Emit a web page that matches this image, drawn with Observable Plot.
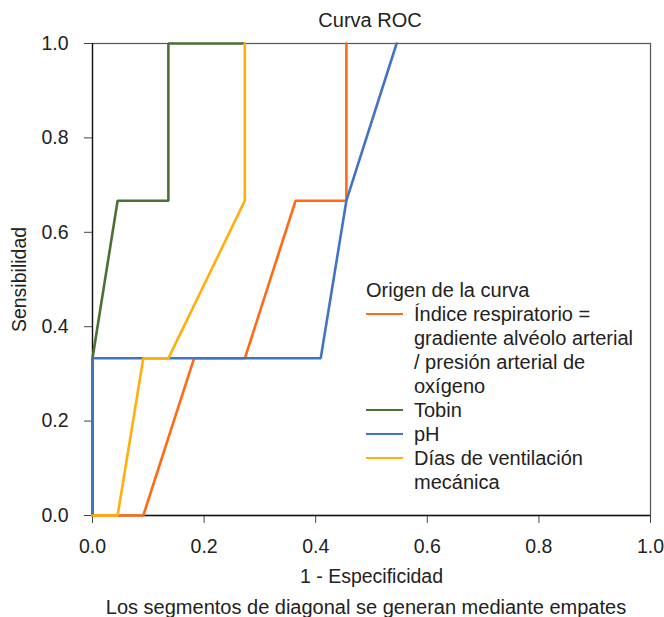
<!DOCTYPE html>
<html><head><meta charset="utf-8">
<script src="https://cdn.jsdelivr.net/npm/d3@7"></script>
<script src="https://cdn.jsdelivr.net/npm/@observablehq/plot@0.6"></script>
<style>
body{margin:0;background:#fff;font-family:"Liberation Sans",Arial,sans-serif;color:#222}
#wrap{position:relative;width:664px;height:617px}
#title{position:absolute;left:0;width:740px;top:8px;text-align:center;font-size:20px;line-height:24px}
#caption{position:absolute;left:0;width:732px;top:595px;text-align:center;font-size:20px;line-height:24px}
#legend{position:absolute;left:366px;top:278px;font-size:20px;line-height:24px}
#legend .row{display:flex;align-items:flex-start}
#legend .sw{width:37px;height:2.6px;margin-top:10.7px;margin-right:11px;flex:none}
#legend .lab{width:260px}
</style></head>
<body><div id="wrap"><div id="title"></div><div id="caption"></div><div id="legend"></div></div>
<script>
const titleText = "Curva ROC";
const captionText = "Los segmentos de diagonal se generan mediante empates";
const legendTitle = "Origen de la curva";
const series = ["Índice respiratorio = gradiente alvéolo arterial / presión arterial de oxígeno", "Tobin", "pH", "Días de ventilación mecánica"];
const legendLines = [["Índice respiratorio =", "gradiente alvéolo arterial", "/ presión arterial de", "oxígeno"], ["Tobin"], ["pH"], ["Días de ventilación", "mecánica"]];
const colors = ["#FF6A13", "#4B7133", "#4473C5", "#FFB00F"];
// 1 - specificity (x) and sensitivity (y) for each curve
const indiceX = [0, 0.091, 0.182, 0.273, 0.364, 0.455, 0.455];
const indiceY = [0, 0, 0.333, 0.333, 0.667, 0.667, 1];
const tobinX = [0, 0, 0.045, 0.136, 0.136, 0.273];
const tobinY = [0, 0.333, 0.667, 0.667, 1, 1];
const phX = [0, 0, 0.409, 0.455, 0.545];
const phY = [0, 0.333, 0.333, 0.667, 1];
const diasX = [0, 0.045, 0.091, 0.136, 0.273, 0.273];
const diasY = [0, 0, 0.333, 0.333, 0.667, 1];
const ticks = [0, 0.2, 0.4, 0.6, 0.8, 1.0];

const drawOrder = [
  [series[0], indiceX, indiceY],
  [series[1], tobinX, tobinY],
  [series[2], phX, phY],
  [series[3], diasX, diasY]
];
const data = drawOrder.flatMap(([s, xs, ys]) => xs.map((x, i) => ({series: s, x, y: ys[i]})));

const chart = Plot.plot({
  width: 664, height: 617,
  marginLeft: 92, marginRight: 14, marginTop: 43, marginBottom: 102,
  style: {fontSize: "19.5px", fontFamily: "'Liberation Sans', Arial, sans-serif", color: "#222", background: "#fff"},
  x: {domain: [0, 1]},
  y: {domain: [0, 1]},
  color: {domain: series, range: colors},
  marks: [
    Plot.frame({stroke: "#555", strokeWidth: 1.2}),
    Plot.axisX({ticks, tickFormat: d3.format(".1f"), tickSize: 8, tickPadding: 16, label: "1 - Especificidad", labelAnchor: "center", labelArrow: "none", labelOffset: 67, stroke: "#444", fontSize: 19.5}),
    Plot.axisY({ticks, tickFormat: d3.format(".1f"), tickSize: 8, tickPadding: 16, label: "Sensibilidad", labelAnchor: "center", labelArrow: "none", labelOffset: 80, stroke: "#444", fontSize: 19.5}),
    Plot.ruleX([0], {stroke: "#111", strokeWidth: 1.3}),
    Plot.ruleY([0], {stroke: "#111", strokeWidth: 1.3}),
    Plot.line(data, {x: "x", y: "y", z: "series", stroke: "series", strokeWidth: 2.6, strokeLinejoin: "miter", curve: "linear"})
  ]
});
document.getElementById("wrap").prepend(chart);
document.getElementById("title").textContent = titleText;
document.getElementById("caption").textContent = captionText;
const leg = document.getElementById("legend");
const t = document.createElement("div"); t.textContent = legendTitle; leg.appendChild(t);
series.forEach((s, i) => {
  const row = document.createElement("div"); row.className = "row";
  const sw = document.createElement("div"); sw.className = "sw"; sw.style.background = colors[i];
  const lab = document.createElement("div"); lab.className = "lab"; lab.innerHTML = legendLines[i].join("<br>");
  row.appendChild(sw); row.appendChild(lab); leg.appendChild(row);
});
</script></body></html>
